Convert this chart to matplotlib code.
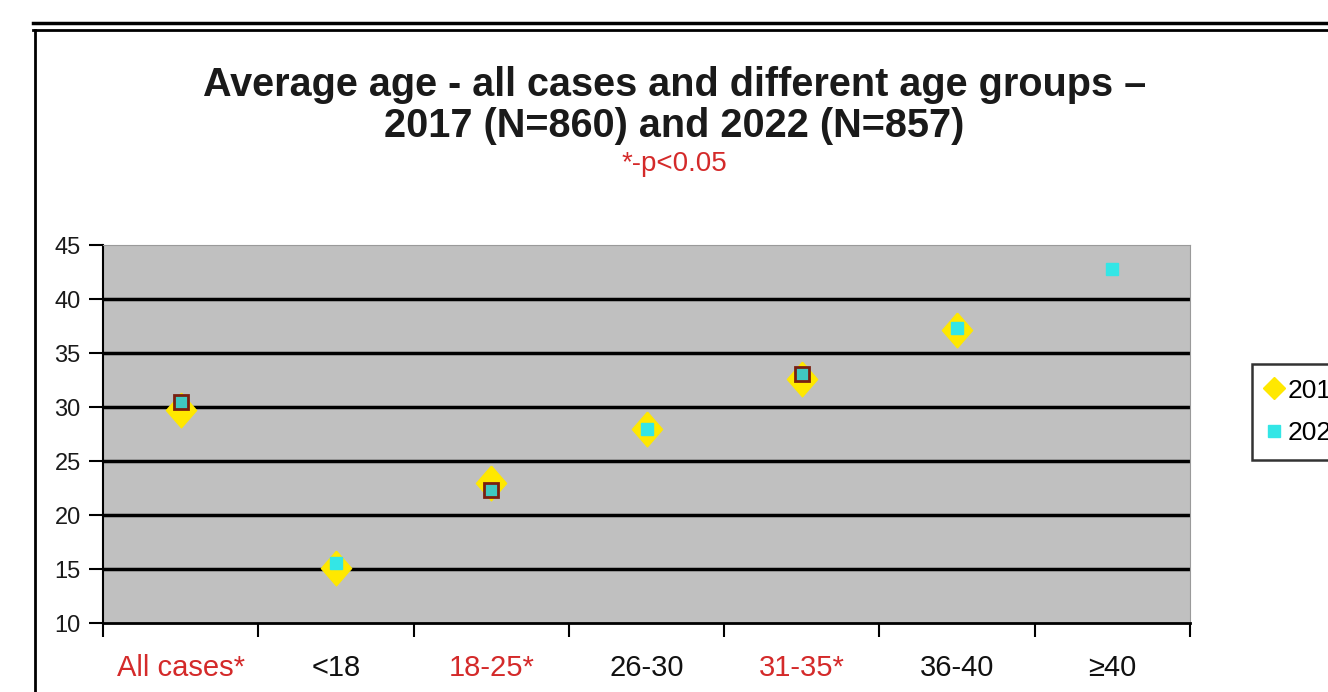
import matplotlib
matplotlib.use("Agg")
import matplotlib.pyplot as plt
from matplotlib.lines import Line2D
import numpy as np

categories = ["All cases*", "<18", "18-25*", "26-30", "31-35*", "36-40", "≥40"]
significant = [True, False, True, False, True, False, False]
vals_2017 = [29.7, 15.1, 23.0, 28.0, 32.6, 37.1, np.nan]
vals_2022 = [30.5, 15.6, 22.3, 28.0, 33.1, 37.3, 42.8]
yticks = [10, 15, 20, 25, 30, 35, 40, 45]

plt.rcParams['font.family'] = ['Liberation Sans', 'DejaVu Sans']

fig = plt.figure(figsize=(13.28, 6.92), dpi=100)
ax = fig.add_axes([103/1328, 1-623/692, (1190-103)/1328, (623-245)/692])
ax.set_facecolor('#c0c0c0')

x = np.arange(len(categories)) + 0.5
ax.set_xlim(0, len(categories))
ax.set_ylim(10, 45)

for yv in yticks[1:-1]:
    ax.axhline(yv, color='black', lw=2.5, zorder=1)

diamond = [(0, 1.15), (1, 0), (0, -1.15), (-1, 0), (0, 1.15)]
ax.plot(x, vals_2017, linestyle='none', marker=diamond, ms=25, color='#ffe800',
        mec='#ffe800', zorder=3, label='2017')
sig = np.array(significant)
v22 = np.array(vals_2022)
ax.plot(x[~sig], v22[~sig], linestyle='none', marker='s', ms=9, color='#33e6e6',
        mec='#33e6e6', zorder=4, label='2022')
ax.plot(x[sig], v22[sig], linestyle='none', marker='s', ms=10, color='#40c8c0',
        mec='#7a2010', mew=2, zorder=4)

ax.set_yticks(yticks)
ax.tick_params(axis='y', direction='out', length=10, width=1.5, pad=6,
               labelsize=17, colors='black')
for lbl in ax.get_yticklabels():
    lbl.set_color('#1a1a1a')
ax.set_xticks(np.arange(len(categories) + 1))
ax.set_xticklabels([])
ax.tick_params(axis='x', which='major', direction='out', length=10, width=1.5)
ax.set_xticks(x, minor=True)
ax.set_xticklabels(categories, minor=True)
ax.tick_params(axis='x', which='minor', length=0, pad=22, labelsize=21)
for lbl, s in zip(ax.get_xticklabels(minor=True), significant):
    lbl.set_color('#d42a2a' if s else '#111111')

ax.spines['left'].set_linewidth(1.5)
ax.spines['bottom'].set_linewidth(2)
ax.spines['top'].set_color('#9a9a9a')
ax.spines['right'].set_color('#9a9a9a')

fig.text(0.508, 1-85/692, "Average age - all cases and different age groups –",
         ha='center', va='center', fontsize=28.5, fontweight='bold', color='#1a1a1a')
fig.text(0.508, 1-126/692, "2017 (N=860) and 2022 (N=857)",
         ha='center', va='center', fontsize=28.5, fontweight='bold', color='#1a1a1a')
fig.text(0.508, 1-164/692, "*-p<0.05", ha='center', va='center', fontsize=20,
         color='#d42a2a')

handles = [Line2D([], [], linestyle='none', marker='D', ms=11, color='#ffe800'),
           Line2D([], [], linestyle='none', marker='s', ms=8, color='#33e6e6')]
leg = fig.legend(handles, ['2017', '2022'], loc='upper left',
                 bbox_to_anchor=(1252/1328, 1-364/692), frameon=True, fancybox=False,
                 fontsize=19, handlelength=0.6, handletextpad=0.2, borderpad=0.55,
                 labelspacing=0.7, borderaxespad=0)
leg.get_frame().set_edgecolor('black')
leg.get_frame().set_linewidth(1.8)

# outer frame
fig.add_artist(Line2D([33/1328, 1], [1-23/692, 1-23/692], color='black', lw=2.5))
fig.add_artist(Line2D([33/1328, 1], [1-30/692, 1-30/692], color='black', lw=2))
fig.add_artist(Line2D([35/1328, 35/1328], [0, 1-30/692], color='black', lw=2))

fig.savefig('out.png', dpi=100)
